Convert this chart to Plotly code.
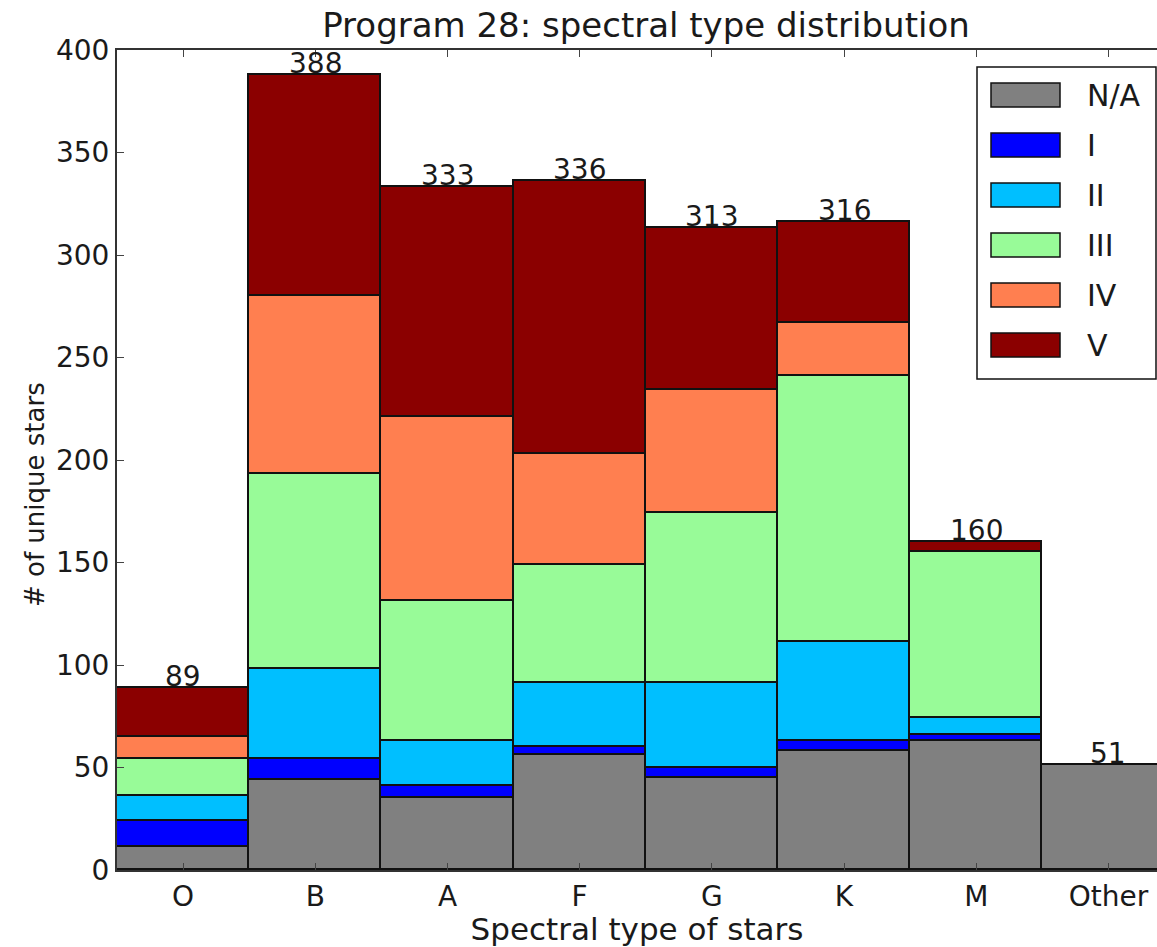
import plotly.graph_objects as go

# ---- data ----
categories = ["O", "B", "A", "F", "G", "K", "M", "Other"]
classes = ["N/A", "I", "II", "III", "IV", "V"]
colors = ["#808080", "#0000FF", "#00BFFF", "#98FB98", "#FF7F50", "#8B0000"]
na_vals = [11, 44, 35, 56, 45, 58, 63, 51]
i_vals = [13, 10, 6, 4, 5, 5, 3, 0]
ii_vals = [12, 44, 22, 31, 41, 48, 8, 0]
iii_vals = [18, 95, 68, 58, 83, 130, 81, 0]
iv_vals = [11, 87, 90, 54, 60, 26, 0, 0]
v_vals = [24, 108, 112, 133, 79, 49, 5, 0]
series = [na_vals, i_vals, ii_vals, iii_vals, iv_vals, v_vals]
totals = [sum(col) for col in zip(*series)]

FONT = "DejaVu Sans"
TXT = "#1a1a1a"
W, H = 1157, 947
ML, MR, MT, MB = 117, 0, 50, 77

fig = go.Figure()
for name, col, vals in zip(classes, colors, series):
    fig.add_trace(go.Bar(
        x=categories, y=vals, name=name, width=1,
        marker=dict(color=col, line=dict(color="#111111", width=1.6)),
        showlegend=False,
    ))

# totals above bars
for c, t in zip(categories, totals):
    fig.add_annotation(x=c, y=t, text=str(t), showarrow=False,
                       yanchor="bottom", yshift=-7,
                       font=dict(family=FONT, size=28, color=TXT))

# custom matplotlib-like legend (paper coords from pixel layout)
pw, ph = W - ML - MR, H - MT - MB
def px2x(px):
    return (px - ML) / pw
def py2y(py):
    return (H - MB - py) / ph

fig.add_shape(type="rect", xref="paper", yref="paper",
              x0=px2x(977), x1=px2x(1156), y0=py2y(379), y1=py2y(67),
              line=dict(color="#111111", width=1.5), fillcolor="white", layer="above")
for k, (name, col) in enumerate(zip(classes, colors)):
    cy = 95 + 50 * k
    fig.add_shape(type="rect", xref="paper", yref="paper",
                  x0=px2x(991), x1=px2x(1060), y0=py2y(cy + 12), y1=py2y(cy - 12),
                  line=dict(color="#111111", width=1.5), fillcolor=col, layer="above")
    fig.add_annotation(xref="paper", yref="paper", x=px2x(1085), y=py2y(cy),
                       text=name, showarrow=False, xanchor="left", yanchor="middle",
                       font=dict(family=FONT, size=30, color=TXT))

# y-axis title placed like the reference
fig.add_annotation(xref="paper", yref="paper", x=px2x(35), y=py2y(495),
                   text="# of unique stars", textangle=-90, showarrow=False,
                   xanchor="center", yanchor="middle",
                   font=dict(family=FONT, size=26, color=TXT))

fig.update_layout(
    width=W, height=H,
    margin=dict(l=ML, r=MR, t=MT, b=MB),
    barmode="stack", bargap=0,
    plot_bgcolor="white", paper_bgcolor="white",
    font=dict(family=FONT, size=26, color=TXT),
    title=dict(text="Program 28: spectral type distribution",
               x=(646 - ML) / pw, xref="paper", xanchor="center",
               y=1 - 25 / H, yref="container", yanchor="middle",
               font=dict(family=FONT, size=34, color=TXT)),
)
fig.update_xaxes(
    range=[-0.5, -0.5 + (W - 116.5) / 132.25],
    showline=True, linecolor="#333333", linewidth=2, mirror="ticks",
    ticks="inside", ticklen=7, tickwidth=1, tickcolor="#444444",
    showgrid=False, zeroline=False,
    tickfont=dict(family=FONT, size=28, color=TXT),
    title=dict(text="Spectral type of stars", standoff=4,
               font=dict(family=FONT, size=31, color=TXT)),
)
fig.update_yaxes(
    range=[0, 400], dtick=50,
    showline=True, linecolor="#333333", linewidth=2, mirror=False,
    ticks="inside", ticklen=7, tickwidth=1, tickcolor="#444444",
    showgrid=False, zeroline=False,
    tickfont=dict(family=FONT, size=28, color=TXT),
)

fig.write_html("out.html")
